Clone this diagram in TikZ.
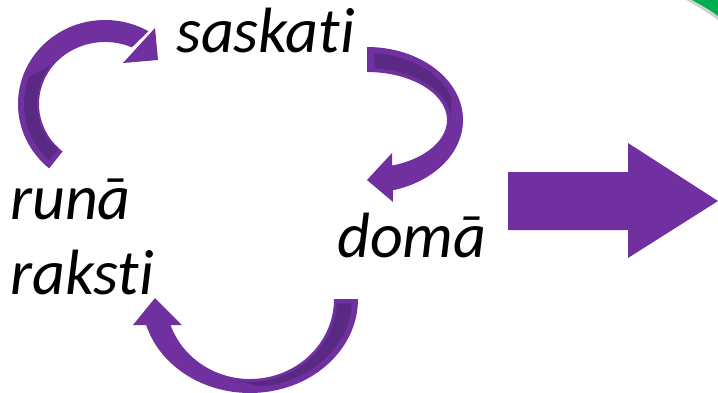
\documentclass[tikz,border=0pt]{standalone}
\usepackage{fontspec}
\setmainfont{Carlito}[Ligatures=NoCommon]
\usepackage{tikz}
\usetikzlibrary{calc,positioning}
\usepackage{xcolor}
\definecolor{CyclePurple}{HTML}{7030A0}
\definecolor{CyclePurpleDark}{HTML}{5A2983}
\definecolor{CornerGreen}{HTML}{00B050}

\begin{document}
\begin{tikzpicture}[x=1pt,y=1pt,
   word/.style={inner sep=0pt,anchor=base west,
    font=\fontsize{64}{75}\selectfont\itshape},
   band/.style={fill=CyclePurple},
   bandback/.style={fill=CyclePurpleDark}]
   \useasboundingbox (0,0) rectangle (718,392);

   % green corner with its shadow
   \fill[black,opacity=.18] (686,392) .. controls (697,386) and (708,379) .. (718,372)
    -- (718,376) .. controls (710,382) and (701,387) .. (692,392) -- cycle;
   \fill[CornerGreen] (692,392) .. controls (701,387) and (710,382) .. (718,376)
    -- (718,392) -- cycle;

   % words
   \node[word] (see) at (176,339) {saskati};
   \node[word] (think) at (337,135) {domā};
   \node[word] (speak) at (10,173) {runā};
   \node[word] (write) at ($(speak.base west)+(0,-75)$) {raksti};

   % runā raksti -> saskati
   \coordinate (c1) at (105,288);
   \fill[band] ($(c1)+(230:87 and 84)$)
    arc[start angle=230,end angle=60,x radius=87,y radius=84]
    -- ($(c1)+(66:66 and 62)$)
    arc[start angle=66,end angle=230,x radius=66,y radius=62] -- cycle;
   \fill[bandback] ($(c1)+(226:81 and 78)$)
    arc[start angle=226,end angle=160,x radius=81,y radius=78]
    -- ($(c1)+(142:68 and 64)$)
    arc[start angle=142,end angle=226,x radius=68,y radius=64] -- cycle;
   \fill[band] (155,364) -- (158,332) -- (123,329) -- cycle;

   % saskati -> domā
   \coordinate (c2) at (367,272);
   \fill[band] ($(c2)+(90:96 and 73)$)
    arc[start angle=90,end angle=-75,x radius=96,y radius=73]
    -- ($(c2)+(-72:80 and 48)$)
    arc[start angle=-72,end angle=90,x radius=80,y radius=48] -- cycle;
   \fill[bandback] ($(c2)+(86:90 and 67)$)
    arc[start angle=86,end angle=20,x radius=90,y radius=67]
    -- ($(c2)+(4:84 and 52)$)
    arc[start angle=4,end angle=84,x radius=84,y radius=52] -- cycle;
   \fill[band] (392,239) -- (367,212) -- (393,190) -- cycle;

   % domā -> runā raksti
   \coordinate (c3) at (250,93);
   \fill[band] ($(c3)+(0:108 and 94)$)
    arc[start angle=0,end angle=-165,x radius=108,y radius=94]
    -- ($(c3)+(-161:84 and 80)$)
    arc[start angle=-161,end angle=0,x radius=84,y radius=80] -- cycle;
   \fill[bandback] ($(c3)+(-3:102 and 88)$)
    arc[start angle=-3,end angle=-84,x radius=102,y radius=88]
    -- ($(c3)+(-98:87 and 83)$)
    arc[start angle=-98,end angle=-3,x radius=87,y radius=83] -- cycle;
   \fill[band] (133,67) -- (155,94) -- (182,67) -- cycle;

   % big arrow
   \fill[band] (508,220) -- (628,220) -- (628,249) -- (718,191)
    -- (628,134) -- (628,162) -- (508,162) -- cycle;
  \end{tikzpicture}
\end{document}
